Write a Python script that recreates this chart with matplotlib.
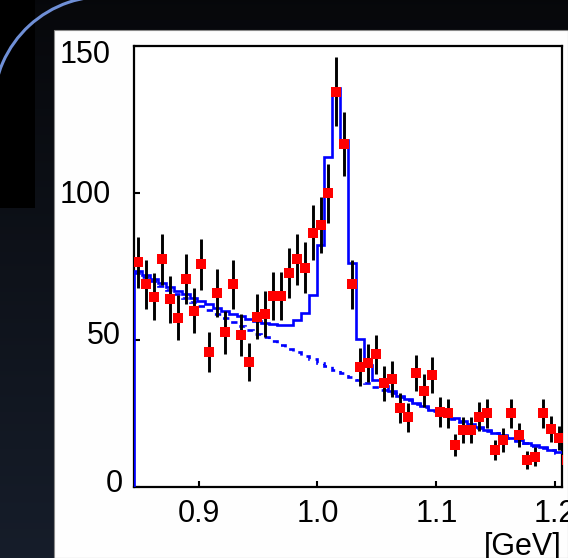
import numpy as np
import matplotlib
matplotlib.use("Agg")
import matplotlib.pyplot as plt
from matplotlib.patches import Rectangle, Arc
from matplotlib.transforms import ScaledTranslation

plt.rcParams['font.family'] = ['Liberation Sans', 'DejaVu Sans']

# bin centres [GeV]
mass = [0.8490, 0.8557, 0.8624, 0.8691, 0.8757, 0.8824, 0.8891, 0.8958, 0.9024, 0.9091,
        0.9158, 0.9225, 0.9291, 0.9358, 0.9425, 0.9492, 0.9558, 0.9625, 0.9692, 0.9759,
        0.9825, 0.9892, 0.9959, 1.0026, 1.0092, 1.0159, 1.0226, 1.0293, 1.0359, 1.0426,
        1.0493, 1.0560, 1.0626, 1.0693, 1.0760, 1.0827, 1.0893, 1.0960, 1.1027, 1.1094,
        1.1160, 1.1227, 1.1294, 1.1361, 1.1427, 1.1494, 1.1561, 1.1628, 1.1694, 1.1761,
        1.1828, 1.1895, 1.1961, 1.2028, 1.2095]

# events per bin and their errors
counts = [76.4, 69.0, 64.7, 77.4, 63.8, 57.6, 70.7, 60.0, 75.7, 46.0,
          65.9, 52.6, 69.0, 51.7, 42.6, 57.9, 58.8, 65.0, 65.0, 72.7,
          77.4, 74.6, 86.5, 89.1, 99.9, 134.5, 116.7, 69.0, 40.9, 42.3,
          45.1, 35.3, 36.7, 26.8, 23.7, 38.7, 32.8, 38.1, 25.6, 25.1,
          14.3, 19.4, 19.4, 23.9, 25.1, 12.6, 16.0, 25.1, 17.7, 9.2,
          10.3, 25.1, 19.6, 16.6, 9.2]
count_err = [8.7, 8.3, 8.0, 8.8, 8.0, 7.6, 8.4, 7.7, 8.7, 6.8,
             8.1, 7.3, 8.3, 7.2, 6.5, 7.6, 7.7, 8.1, 8.1, 8.5,
             8.8, 8.6, 9.3, 9.4, 10.0, 11.6, 10.8, 8.3, 6.4, 6.5,
             6.7, 5.9, 6.1, 5.2, 4.9, 6.2, 5.7, 6.2, 5.1, 5.0,
             3.8, 4.4, 4.4, 4.9, 5.0, 3.5, 4.0, 5.0, 4.2, 3.0,
             3.2, 5.0, 4.4, 4.1, 3.0]

# fit result: signal + background, and background only
fit_total = [73.3, 72.0, 70.7, 69.4, 68.1, 66.8, 65.6, 64.4, 63.2, 62.1,
             61.0, 60.0, 59.0, 58.1, 57.3, 56.5, 55.9, 55.3, 55.0, 55.1,
             56.8, 59.1, 65.3, 82.3, 112.3, 135.8, 118.0, 76.3, 50.4, 41.5,
             36.4, 34.5, 32.6, 31.0, 29.8, 28.6, 27.4, 26.2, 25.2, 24.2,
             23.3, 22.4, 21.4, 20.4, 19.4, 18.5, 17.7, 16.8, 16.0, 15.1,
             14.3, 13.5, 12.7, 11.9, 11.1]
fit_bkg = [72.8, 71.4, 69.9, 68.5, 67.1, 65.6, 64.2, 62.9, 61.5, 60.1,
           58.8, 57.4, 56.1, 54.8, 53.5, 52.2, 50.9, 49.6, 48.4, 47.1,
           45.9, 44.6, 43.4, 42.2, 41.0, 39.9, 38.7, 37.5, 36.4, 35.3,
           34.1, 33.0, 31.9, 30.6, 29.5, 28.3, 27.1, 26.0, 24.9, 24.0,
           23.1, 22.2, 21.2, 20.2, 19.2, 18.3, 17.5, 16.6, 15.8, 14.9,
           14.1, 13.3, 12.5, 11.7, 10.9]

x_ticks = [0.9, 1.0, 1.1, 1.2]
x_tick_labels = ['0.9', '1.0', '1.1', '1.2']
y_ticks = [0, 50, 100, 150]
y_tick_labels = ['0', '50', '100', '150']

bin_width = 0.006675
m = np.array(mass)
edges = np.concatenate([[m[0] - bin_width / 2], (m[:-1] + m[1:]) / 2, [m[-1] + bin_width / 2]])

W, H = 568, 558
fig = plt.figure(figsize=(W / 100, H / 100), dpi=100)

# slide-style backdrop in pixel coordinates
bg = fig.add_axes([0, 0, 1, 1], zorder=-10)
bg.set_xlim(0, W)
bg.set_ylim(H, 0)
bg.axis('off')
shade = np.linspace(0, 1, 256).reshape(-1, 1)
top_col = np.array([0.027, 0.031, 0.043])
bot_col = np.array([0.086, 0.114, 0.165])
grad = top_col + (bot_col - top_col) * shade[..., None]
bg.imshow(grad, extent=(0, W, H, 0), aspect='auto', zorder=0)
bg.add_patch(Rectangle((0, 0), 35, 208, facecolor='black', edgecolor='none', zorder=1))
bg.add_patch(Arc((104, 107), 221, 221, theta1=180, theta2=275,
                 color='#6f8fd6', lw=2.2, zorder=2))
bg.add_patch(Rectangle((54, 30), W - 54, H - 30, facecolor='#fefefe',
                       edgecolor='#8a8a8a', lw=0.8, zorder=3))

ax = fig.add_axes([134 / W, 1 - 487 / H, (562 - 134) / W, (487 - 46) / H])
ax.set_facecolor('white')

ax.stairs(fit_bkg, edges, baseline=None, color='blue', lw=1.9,
          linestyle=(0, (2.4, 2.2)), zorder=2)
ax.stairs(fit_total, edges, baseline=0, color='blue', lw=1.9, zorder=3)
ax.errorbar(mass, counts, yerr=count_err, fmt='none', ecolor='black',
            elinewidth=2.1, capsize=0, zorder=4)
ax.plot(mass, counts, 's', color='#ff0000', markersize=7.3, markeredgewidth=0, zorder=5)

ax.set_xlim(0.8457, 1.2057)
ax.set_ylim(0, 150)
ax.set_xticks(x_ticks, x_tick_labels)
ax.set_yticks(y_ticks, y_tick_labels)
ax.tick_params(axis='both', direction='in', length=4.5, width=1.5,
               labelsize=22, colors='black')
ax.tick_params(axis='x', pad=9)
ax.tick_params(axis='y', pad=17)
for side in ['left', 'right', 'top', 'bottom']:
    ax.spines[side].set_linewidth(1.6)
    ax.spines[side].set_color('black')

# nudge the y labels (pixels: right, up) so they sit as in the original slide
label_shift = {'150': (0, -6), '100': (0, 1), '50': (10, 7), '0': (12, 7)}
for lab in ax.get_yticklabels():
    dx, dy = label_shift.get(lab.get_text(), (0, 0))
    lab.set_transform(lab.get_transform() + ScaledTranslation(dx / 100, dy / 100, fig.dpi_scale_trans))

ax.set_xlabel('[GeV]', fontsize=22, loc='right', labelpad=2)

fig.savefig('out.png', dpi=100)
